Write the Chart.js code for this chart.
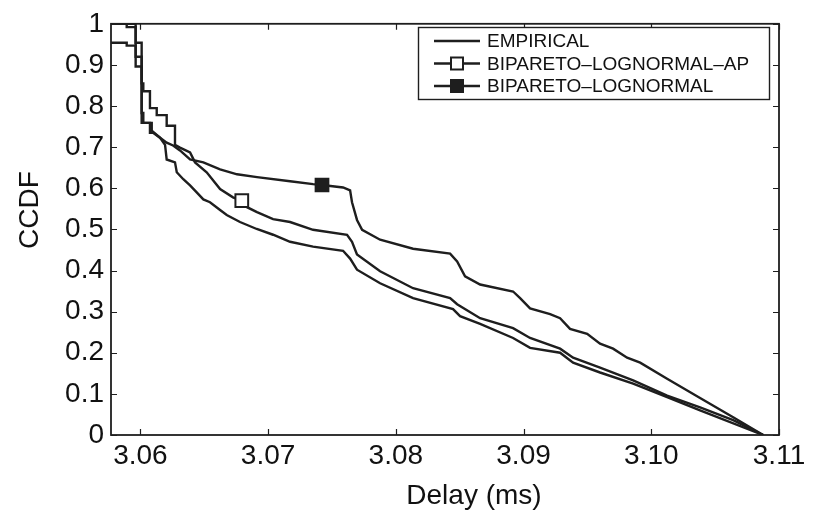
<!DOCTYPE html>
<html>
<head>
<meta charset="utf-8">
<script src="https://cdn.jsdelivr.net/npm/chart.js@4.4.1/dist/chart.umd.min.js"></script>
<style>
  html, body { margin: 0; padding: 0; background: #fff; }
  #wrap { width: 813px; height: 510px; }
</style>
</head>
<body>
<div id="wrap"><canvas id="ccdfChart" width="813" height="510"></canvas></div>
<script>
// Axis ranges and ticks
const xMin = 3.0577;
const xMax = 3.11;
const xTicks = [3.06, 3.07, 3.08, 3.09, 3.10, 3.11];
const xTickLabels = ['3.06', '3.07', '3.08', '3.09', '3.10', '3.11'];
const yTicks = [0, 0.1, 0.2, 0.3, 0.4, 0.5, 0.6, 0.7, 0.8, 0.9, 1];
const yTickLabels = ['0', '0.1', '0.2', '0.3', '0.4', '0.5', '0.6', '0.7', '0.8', '0.9', '1'];

const seriesLabels = ['EMPIRICAL', 'BIPARETO\u2013LOGNORMAL\u2013AP', 'BIPARETO\u2013LOGNORMAL'];

// EMPIRICAL (lowest curve)
const empX = [3.0577, 3.05893, 3.05893, 3.05963, 3.05963, 3.06010, 3.06010, 3.06023, 3.06023, 3.06075,
  3.06075, 3.06099, 3.06154, 3.06193, 3.06206, 3.06271, 3.06285, 3.06336, 3.06389, 3.06441,
  3.06493, 3.06545, 3.06624, 3.06676, 3.06780, 3.06911, 3.07039, 3.07172, 3.07352, 3.07587,
  3.07642, 3.07696, 3.07877, 3.08135, 3.08448, 3.08503, 3.08660, 3.08918, 3.09051, 3.09286,
  3.09388, 3.09599, 3.09858, 3.10124, 3.10382, 3.10876];
const empY = [0.954, 0.954, 0.947, 0.947, 0.920, 0.920, 0.783, 0.783, 0.759, 0.759,
  0.735, 0.735, 0.723, 0.706, 0.670, 0.663, 0.639, 0.622, 0.607, 0.590,
  0.573, 0.566, 0.547, 0.535, 0.518, 0.501, 0.487, 0.470, 0.458, 0.448,
  0.429, 0.402, 0.369, 0.333, 0.306, 0.289, 0.270, 0.236, 0.212, 0.200,
  0.176, 0.152, 0.125, 0.092, 0.060, 0];

// BIPARETO-LOGNORMAL-AP (open square)
const apX = [3.0577, 3.05963, 3.05963, 3.06010, 3.06010, 3.06023, 3.06023, 3.06075, 3.06075, 3.06128,
  3.06128, 3.06206, 3.06206, 3.06271, 3.06271, 3.06310, 3.06389, 3.06428, 3.06519, 3.06624,
  3.06725, 3.06794, 3.06835, 3.06913, 3.07039, 3.07172, 3.07352, 3.07618, 3.07657, 3.07696,
  3.07877, 3.08135, 3.08425, 3.08480, 3.08660, 3.08918, 3.09051, 3.09286, 3.09388, 3.09599,
  3.09858, 3.10124, 3.10382, 3.10641, 3.10876];
const apY = [1, 1, 0.896, 0.896, 0.855, 0.855, 0.836, 0.836, 0.795, 0.795,
  0.778, 0.778, 0.752, 0.752, 0.706, 0.699, 0.687, 0.663, 0.639, 0.598,
  0.578, 0.570, 0.554, 0.542, 0.525, 0.518, 0.499, 0.487, 0.470, 0.439,
  0.398, 0.357, 0.333, 0.318, 0.284, 0.260, 0.236, 0.210, 0.188, 0.164,
  0.133, 0.096, 0.067, 0.036, 0];
const apMarkerX = 3.06794;

// BIPARETO-LOGNORMAL (filled square)
const lnX = [3.0577, 3.05893, 3.05893, 3.05963, 3.05963, 3.06010, 3.06010, 3.06089, 3.06089, 3.06154,
  3.06206, 3.06256, 3.06310, 3.06389, 3.06493, 3.06624, 3.06757, 3.06913, 3.07172, 3.07352,
  3.07422, 3.07587, 3.07642, 3.07657, 3.07696, 3.07736, 3.07877, 3.08135, 3.08425, 3.08480,
  3.08542, 3.08660, 3.08918, 3.08973, 3.09051, 3.09208, 3.09286, 3.09364, 3.09498, 3.09599,
  3.09701, 3.09811, 3.09913, 3.10124, 3.10382, 3.10641, 3.10876];
const lnY = [1, 1, 0.992, 0.992, 0.954, 0.954, 0.759, 0.759, 0.740, 0.723,
  0.711, 0.704, 0.692, 0.670, 0.663, 0.646, 0.634, 0.627, 0.617, 0.610,
  0.608, 0.602, 0.595, 0.566, 0.523, 0.499, 0.475, 0.453, 0.441, 0.422,
  0.386, 0.366, 0.349, 0.333, 0.308, 0.294, 0.284, 0.258, 0.246, 0.222,
  0.210, 0.188, 0.176, 0.137, 0.090, 0.043, 0];
const lnMarkerX = 3.07422;

const FONT = "'Liberation Sans', Arial, Helvetica, sans-serif";
const INK = '#1e1e1e';

function toPoints(xs, ys) {
    return xs.map((x, i) => ({x: x, y: ys[i]}));
}

function markerRadius(markerX) {
    return ctx => (ctx.raw && markerX !== null && ctx.raw.x === markerX) ? 9 : 0;
}

function makeDataset(label, xs, ys, markerX, filled) {
    return {
        label: label,
        data: toPoints(xs, ys),
        borderColor: INK,
        borderWidth: 2.4,
        tension: 0,
        fill: false,
        pointStyle: 'rect',
        pointRadius: markerRadius(markerX),
        pointHoverRadius: markerRadius(markerX),
        pointBackgroundColor: filled ? INK : '#ffffff',
        pointBorderColor: INK,
        pointBorderWidth: 2,
        markerShown: markerX !== null,
        markerFilled: filled
    };
}

// frame, inward ticks, axis titles and boxed legend (matlab look)
const figurePlugin = {
    id: 'figureDecor',
    afterDatasetsDraw(chart) {
        const {ctx, chartArea: a, scales} = chart;
        const x = scales.x, y = scales.y;
        ctx.save();
        ctx.strokeStyle = INK;
        ctx.lineWidth = 1.2;
        ctx.beginPath();
        xTicks.forEach(v => {
            const px = Math.round(x.getPixelForValue(v)) + 0.5;
            ctx.moveTo(px, a.bottom); ctx.lineTo(px, a.bottom - 6);
            ctx.moveTo(px, a.top); ctx.lineTo(px, a.top + 6);
        });
        yTicks.forEach(v => {
            const py = Math.round(y.getPixelForValue(v)) + 0.5;
            ctx.moveTo(a.left, py); ctx.lineTo(a.left + 6, py);
            ctx.moveTo(a.right, py); ctx.lineTo(a.right - 6, py);
        });
        ctx.stroke();
        ctx.lineWidth = 1.8;
        ctx.strokeRect(a.left, a.top, a.right - a.left, a.bottom - a.top);
        ctx.restore();
    },
    afterDraw(chart) {
        const {ctx} = chart;
        ctx.save();
        ctx.fillStyle = '#111';
        ctx.font = '28px ' + FONT;
        ctx.textAlign = 'center';
        ctx.textBaseline = 'middle';
        ctx.fillText('Delay (ms)', 474, 496);
        ctx.translate(30, 210);
        ctx.rotate(-Math.PI / 2);
        ctx.fillText('CCDF', 0, 0);
        ctx.restore();

        // legend box
        const box = {left: 418, top: 27, right: 769, bottom: 99};
        ctx.save();
        ctx.fillStyle = '#fff';
        ctx.fillRect(box.left, box.top, box.right - box.left, box.bottom - box.top);
        ctx.strokeStyle = INK;
        ctx.lineWidth = 1.4;
        ctx.strokeRect(box.left + 0.5, box.top + 0.5, box.right - box.left, box.bottom - box.top);
        const rows = [41, 63.5, 86];
        ctx.font = '19px ' + FONT;
        ctx.textAlign = 'left';
        ctx.textBaseline = 'middle';
        chart.data.datasets.forEach((ds, i) => {
            const ry = rows[i];
            ctx.strokeStyle = INK;
            ctx.lineWidth = 2.4;
            ctx.beginPath();
            ctx.moveTo(434, ry); ctx.lineTo(480, ry);
            ctx.stroke();
            if (ds.markerShown) {
                const s = 12;
                ctx.lineWidth = 2;
                ctx.fillStyle = ds.markerFilled ? INK : '#fff';
                ctx.fillRect(457 - s / 2, ry - s / 2, s, s);
                ctx.strokeRect(457 - s / 2, ry - s / 2, s, s);
            }
            ctx.fillStyle = '#111';
            ctx.fillText(ds.label, 487, ry + 1);
        });
        ctx.restore();
    }
};

document.addEventListener('DOMContentLoaded', function () {
    const ctx = document.getElementById('ccdfChart').getContext('2d');
    new Chart(ctx, {
        type: 'line',
        data: {
            datasets: [
                makeDataset(seriesLabels[0], empX, empY, null, false),
                makeDataset(seriesLabels[1], apX, apY, apMarkerX, false),
                makeDataset(seriesLabels[2], lnX, lnY, lnMarkerX, true)
            ]
        },
        options: {
            responsive: false,
            animation: false,
            layout: {
                padding: {top: 20, right: 34, left: 0, bottom: 0}
            },
            plugins: {
                legend: {display: false},
                tooltip: {enabled: false}
            },
            scales: {
                x: {
                    type: 'linear',
                    min: xMin,
                    max: xMax,
                    grid: {display: false, drawTicks: false},
                    border: {display: false},
                    afterBuildTicks: scale => {
                        scale.ticks = xTicks.map(v => ({value: v}));
                    },
                    afterFit: scale => {
                        scale.height = 75;
                    },
                    ticks: {
                        autoSkip: false,
                        maxRotation: 0,
                        padding: 4,
                        color: '#111',
                        font: {size: 28, family: FONT},
                        callback: (value, index) => xTickLabels[index]
                    }
                },
                y: {
                    type: 'linear',
                    min: 0,
                    max: 1,
                    grid: {display: false, drawTicks: false},
                    border: {display: false},
                    afterBuildTicks: scale => {
                        scale.ticks = yTicks.map(v => ({value: v}));
                    },
                    afterFit: scale => {
                        scale.width = 111;
                    },
                    ticks: {
                        autoSkip: false,
                        padding: 7,
                        color: '#111',
                        font: {size: 28, family: FONT},
                        callback: (value, index) => yTickLabels[index]
                    }
                }
            }
        },
        plugins: [figurePlugin]
    });
});
</script>
</body>
</html>
